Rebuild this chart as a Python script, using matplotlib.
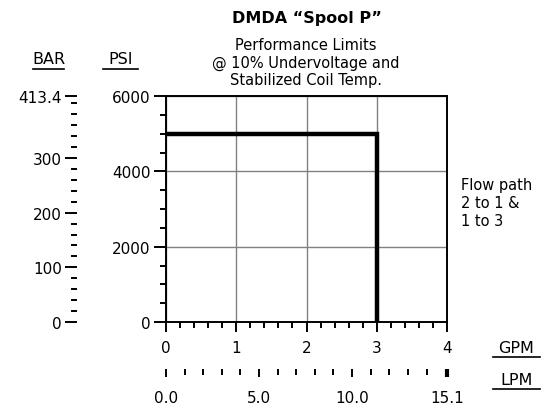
import matplotlib
matplotlib.use("Agg")
import matplotlib.pyplot as plt
from matplotlib.lines import Line2D
from matplotlib.ticker import MultipleLocator, FixedLocator
import numpy as np

# Data
gpm = [0, 3, 3]
psi = [5000, 5000, 0]
gpm_ticks = [0, 1, 2, 3, 4]
psi_ticks = [0, 2000, 4000, 6000]
bar_ticks = [0, 100, 200, 300, 413.4]
lpm_ticks = [0.0, 5.0, 10.0, 15.1]
lpm_labels = ["0.0", "5.0", "10.0", "15.1"]
title = "DMDA \u201cSpool P\u201d"
subtitle = ["Performance Limits", "@ 10% Undervoltage and", "Stabilized Coil Temp."]
note = ["Flow path", "2 to 1 &", "1 to 3"]

W, H = 544, 410
plt.rcParams['font.family'] = ['DejaVu Sans']
fig = plt.figure(figsize=(W / 100, H / 100), dpi=100)

def fx(x):
    return x / W

def fy(y):
    return 1 - y / H

TS = 11
L, R, T, B = 166, 447, 97, 323
ax = fig.add_axes([fx(L), fy(B), (R - L) / W, (B - T) / H])
ax.set_xlim(0, 4)
ax.set_ylim(0, 6000)
ax.plot(gpm, psi, color='black', lw=3.2, solid_capstyle='butt', solid_joinstyle='miter', zorder=3)

ax.xaxis.set_major_locator(FixedLocator(gpm_ticks))
ax.xaxis.set_minor_locator(MultipleLocator(0.2))
ax.yaxis.set_major_locator(FixedLocator(psi_ticks))
ax.yaxis.set_minor_locator(MultipleLocator(500))
ax.grid(True, which='major', color='#808080', lw=1)
ax.set_axisbelow(True)
for s in ax.spines.values():
    s.set_linewidth(1.4)
ax.tick_params(axis='x', which='major', direction='out', length=7, width=1.4, labelsize=TS, pad=6)
ax.tick_params(axis='x', which='minor', direction='out', length=4, width=1.4)
ax.tick_params(axis='y', which='major', direction='out', length=9, width=1.4, labelsize=TS, pad=2)
ax.tick_params(axis='y', which='minor', direction='out', length=4, width=1.4)
ax.set_yticklabels([str(v) for v in psi_ticks])
ax.set_xticklabels([str(v) for v in gpm_ticks])

# BAR axis
ratio_bar = 413.4 / 6000
sec_y = ax.secondary_yaxis((77 - L) / (R - L), functions=(lambda p: p * ratio_bar, lambda b: b / ratio_bar))
sec_y.spines['left'].set_visible(False)
sec_y.yaxis.set_major_locator(FixedLocator(bar_ticks))
sec_y.yaxis.set_minor_locator(FixedLocator(list(range(20, 401, 20))))
sec_y.set_yticklabels(["0", "100", "200", "300", "413.4"])
sec_y.tick_params(axis='y', which='major', length=9, width=1.4, labelsize=TS, pad=2)
sec_y.tick_params(axis='y', which='minor', length=4, width=1.4)

# LPM axis
ratio_lpm = 15.1 / 4
sec_x = ax.secondary_xaxis((B - 370) / (B - T), functions=(lambda g: g * ratio_lpm, lambda l: l / ratio_lpm))
sec_x.spines['bottom'].set_visible(False)
sec_x.xaxis.set_major_locator(FixedLocator(lpm_ticks))
sec_x.xaxis.set_minor_locator(FixedLocator([v for v in range(1, 15) if v % 5 != 0]))
sec_x.set_xticklabels(lpm_labels)
sec_x.tick_params(axis='x', which='major', length=6, width=1.4, labelsize=TS, pad=9)
sec_x.tick_params(axis='x', which='minor', length=4, width=1.4)
# thicker end tick at 15.1
sec_x.xaxis.get_major_ticks()[-1].tick1line.set_markeredgewidth(3)

# Titles
fig.text(fx(307), fy(18), title, ha='center', va='center', fontsize=11.5, fontweight='bold')
for i, line in enumerate(subtitle):
    fig.text(fx(306), fy(45 + 18 * i), line, ha='center', va='center', fontsize=10.5)

for i, line in enumerate(note):
    fig.text(fx(461), fy(186 + 18 * i), line, ha='left', va='center', fontsize=10.5)

# Underlined unit labels
def ulabel(text, x0, x1, y, uy):
    fig.text(fx((x0 + x1) / 2), fy(y), text, ha='center', va='center', fontsize=11.5)
    fig.add_artist(Line2D([fx(x0), fx(x1)], [fy(uy), fy(uy)], color='black', lw=1.2))

ulabel("BAR", 33, 64, 60, 70)
ulabel("PSI", 103, 138, 60, 70)
ulabel("GPM", 493, 540, 349, 358)
ulabel("LPM", 493, 540, 381, 390)

fig.savefig("out.png", dpi=100)
